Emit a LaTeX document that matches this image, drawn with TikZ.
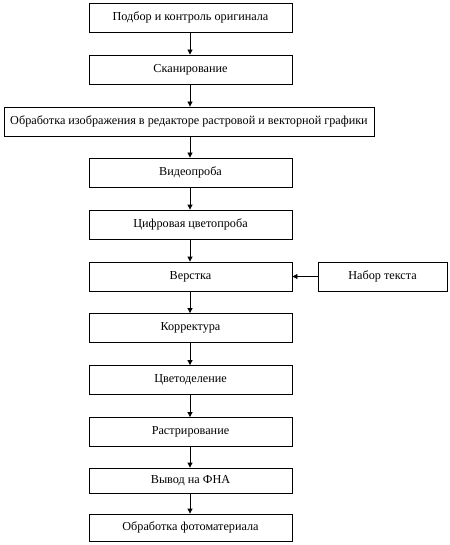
\documentclass[tikz,border=0pt]{standalone}
\usepackage{fontspec}
\setmainfont{Liberation Serif}
\usetikzlibrary{arrows.meta}
\begin{document}
\begin{tikzpicture}[x=1pt,y=-1pt,
  box/.style={draw=black,line width=0.85pt,minimum height=29pt,inner sep=0pt,font=\fontsize{12.2}{14}\selectfont},
  arr/.style={-{Triangle[length=5pt,width=5pt]},line width=0.85pt}]
\useasboundingbox (0,0) rectangle (449,545);
\node[box,minimum width=203pt] (b1) at (190.5,17.5) {Подбор и контроль оригинала};
\node[box,minimum width=203pt] (b2) at (190.5,69.5) {Сканирование};
\node[box,minimum width=370pt] (b3) at (189,121.5) {Обработка изображения в редакторе растровой и векторной графики};
\node[box,minimum width=203pt] (b4) at (190.5,172.5) {Видеопроба};
\node[box,minimum width=203pt] (b5) at (190.5,224.5) {Цифровая цветопроба};
\node[box,minimum width=203pt] (b6) at (190.5,276.5) {Верстка};
\node[box,minimum width=129pt] (t) at (382.5,276.5) {Набор текста};
\node[box,minimum width=203pt] (b7) at (190.5,328) {Корректура};
\node[box,minimum width=203pt] (b8) at (190.5,380) {Цветоделение};
\node[box,minimum width=203pt] (b9) at (190.5,432) {Растрирование};
\node[box,minimum width=203pt,minimum height=25pt] (b10) at (190.5,480.5) {Вывод на ФНА};
\node[box,minimum width=203pt,minimum height=27pt] (b11) at (190.5,527.5) {Обработка фотоматериала};
\foreach \a/\b in {b1/b2,b2/b3,b3/b4,b4/b5,b5/b6,b6/b7,b7/b8,b8/b9,b9/b10,b10/b11}
  \draw[arr] (\a.south -| 190,0) -- (\b.north -| 190,0);
\draw[arr] (t.west) -- (b6.east);
\end{tikzpicture}
\end{document}
